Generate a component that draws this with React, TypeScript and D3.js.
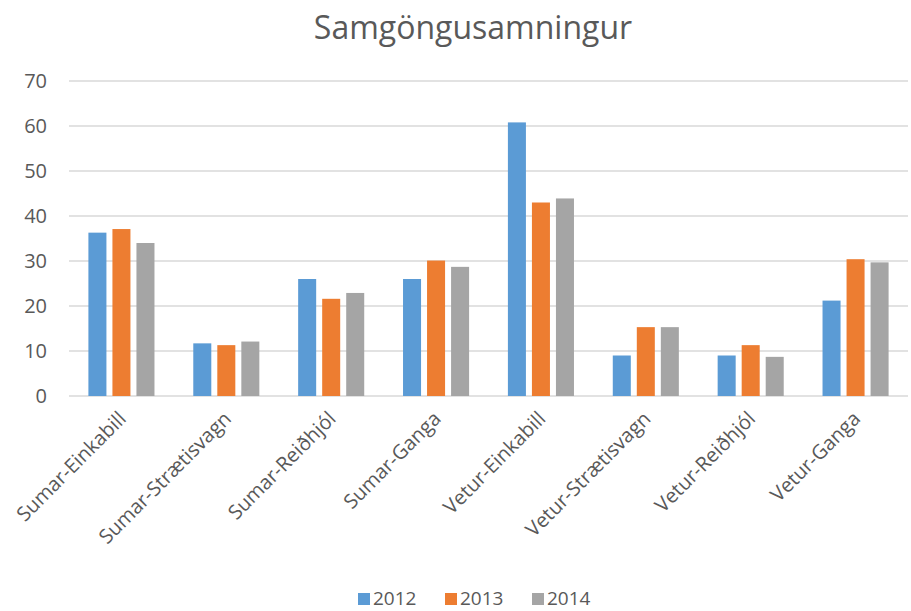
import * as d3 from "d3";

const categories = [
  "Sumar-Einkabill",
  "Sumar-Strætisvagn",
  "Sumar-Reiðhjól",
  "Sumar-Ganga",
  "Vetur-Einkabill",
  "Vetur-Strætisvagn",
  "Vetur-Reiðhjól",
  "Vetur-Ganga",
];
const years = ["2012", "2013", "2014"];
const values2012 = [36.3, 11.7, 26.0, 26.0, 60.8, 9.0, 9.0, 21.2];
const values2013 = [37.1, 11.3, 21.6, 30.1, 43.0, 15.3, 11.3, 30.4];
const values2014 = [34.0, 12.1, 22.9, 28.7, 43.9, 15.3, 8.7, 29.7];
const yTicks = [0, 10, 20, 30, 40, 50, 60, 70];
const colors = ["#5B9BD5", "#ED7D31", "#A5A5A5"];

const series = [values2012, values2013, values2014];

const width = 911;
const height = 611;
const margin = { top: 81, right: 3, bottom: 215, left: 69 };
const font = "'Open Sans', 'Noto Sans', sans-serif";
const textColor = "#595959";

export default function App() {
  const innerWidth = width - margin.left - margin.right;
  const innerHeight = height - margin.top - margin.bottom;

  const x0 = d3.scaleBand().domain(categories).range([0, innerWidth]).paddingInner(0.37).paddingOuter(0.185);
  const x1 = d3.scaleBand().domain(years).range([0, x0.bandwidth()]).paddingInner(0.25);
  const y = d3.scaleLinear().domain([0, 70]).range([innerHeight, 0]);
  const legendX = d3.scaleLinear().domain([0, 1]).range([358, 445]);

  return (
    <svg
      width={width}
      height={height}
      style={{ position: "absolute", left: 0, top: 0, background: "#fff" }}
    >
      <text
        x={473}
        y={39}
        textAnchor="middle"
        fontFamily={font}
        fontSize={32}
        fill={textColor}
      >
        Samgöngusamningur
      </text>
      <g transform={`translate(${margin.left},${margin.top})`}>
        {yTicks.map((t) => (
          <g key={t} transform={`translate(0,${y(t)})`}>
            <line x1={0} x2={innerWidth} stroke="#D9D9D9" strokeWidth={1.5} />
            <text
              x={-22}
              dy="0.36em"
              textAnchor="end"
              fontFamily={font}
              fontSize={20}
              fill={textColor}
            >
              {t}
            </text>
          </g>
        ))}
        {categories.map((c, i) => (
          <g key={c} transform={`translate(${x0(c)},0)`}>
            {years.map((yr, s) => (
              <rect
                key={yr}
                x={x1(yr)}
                y={y(series[s][i])}
                width={x1.bandwidth()}
                height={innerHeight - y(series[s][i])}
                fill={colors[s]}
              />
            ))}
          </g>
        ))}
        {categories.map((c) => {
          const cx = (x0(c) ?? 0) + x0.bandwidth() / 2 + 6;
          return (
            <text
              key={c}
              transform={`translate(${cx},${innerHeight + 24}) rotate(-45)`}
              textAnchor="end"
              fontFamily={font}
              fontSize={20}
              fill={textColor}
            >
              {c}
            </text>
          );
        })}
      </g>
      <g transform="translate(0,605)">
        {years.map((yr, s) => (
          <g key={yr} transform={`translate(${legendX(s)},0)`}>
            <rect x={0} y={-12} width={12} height={12} fill={colors[s]} />
            <text x={15} fontFamily={font} fontSize={19} fill={textColor}>
              {yr}
            </text>
          </g>
        ))}
      </g>
    </svg>
  );
}
